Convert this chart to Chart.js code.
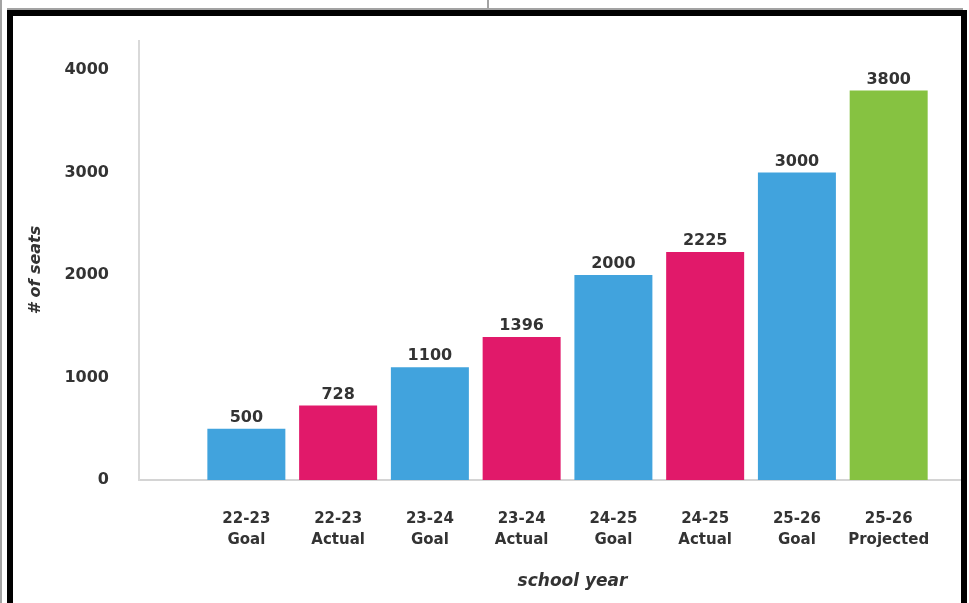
<!DOCTYPE html>
<html>
<head>
<meta charset="utf-8">
<script src="https://cdn.jsdelivr.net/npm/chart.js@4.4.1/dist/chart.umd.min.js"></script>
<style>
  html, body { margin: 0; padding: 0; background: #fff; }
  #wrap { position: relative; width: 969px; height: 603px; overflow: hidden; }
  #chart { position: absolute; left: 0; top: 0; }
  .line { position: absolute; background: #a3a3a3; }
  #frame { position: absolute; left: 7px; top: 10px; width: 960px; height: 700px; border: 6px solid #000; box-sizing: border-box; }
</style>
</head>
<body>
<div id="wrap">
  <canvas id="chart" width="969" height="603"></canvas>
  <div class="line" style="left:0;top:0;width:2px;height:603px"></div>
  <div class="line" style="left:7px;top:8px;width:956px;height:2px"></div>
  <div class="line" style="left:487px;top:0;width:2px;height:10px"></div>
  <div id="frame"></div>
</div>
<script>
const years = ['22-23', '22-23', '23-24', '23-24', '24-25', '24-25', '25-26', '25-26'];
const kinds = ['Goal', 'Actual', 'Goal', 'Actual', 'Goal', 'Actual', 'Goal', 'Projected'];
const seats = [500, 728, 1100, 1396, 2000, 2225, 3000, 3800];
const yTicks = [0, 1000, 2000, 3000, 4000];

const KIND_COLORS = { Goal: '#41a3dd', Actual: '#e1196a', Projected: '#86c241' };
const TEXT = '#333333';
const FONT = 'DejaVu Sans';

// bar value labels + axis titles centred on the data region
const overlayPlugin = {
  id: 'overlay',
  afterDatasetsDraw(chart) {
    const { ctx, scales } = chart;
    const meta = chart.getDatasetMeta(0);
    ctx.save();
    ctx.fillStyle = TEXT;
    ctx.font = `bold 16px "${FONT}"`;
    ctx.textAlign = 'center';
    ctx.textBaseline = 'middle';
    meta.data.forEach((bar, i) => {
      ctx.fillText(String(seats[i]), bar.x, bar.y - 11);
    });

    ctx.font = `italic bold 17px "${FONT}"`;
    const xMid = (scales.x.getPixelForValue(1) + scales.x.getPixelForValue(seats.length)) / 2;
    ctx.fillText('school year', xMid + 5, chart.chartArea.bottom + 102);

    ctx.font = `italic bold 16px "${FONT}"`;
    const yMid = (scales.y.getPixelForValue(yTicks[0]) + scales.y.getPixelForValue(yTicks[yTicks.length - 1])) / 2;
    ctx.translate(36, yMid - 5);
    ctx.rotate(-Math.PI / 2);
    ctx.fillText('# of seats', 0, 0);
    ctx.restore();
  }
};

new Chart(document.getElementById('chart'), {
  type: 'bar',
  data: {
    datasets: [{
      data: seats.map((v, i) => ({ x: i + 1, y: v })),
      backgroundColor: kinds.map(k => KIND_COLORS[k]),
      barPercentage: 0.85,
      categoryPercentage: 1,
      borderWidth: 0
    }]
  },
  options: {
    responsive: false,
    animation: false,
    layout: { padding: { top: 41, right: 6, bottom: 0, left: 0 } },
    plugins: { legend: { display: false }, tooltip: { enabled: false } },
    scales: {
      x: {
        type: 'linear',
        offset: false,
        min: -0.17,
        max: 8.81,
        afterBuildTicks: axis => { axis.ticks = years.map((_, i) => ({ value: i + 1 })); },
        afterFit: axis => { axis.height = 123; },
        grid: { display: false, drawTicks: false },
        border: { color: '#d4d4d4', width: 2 },
        ticks: {
          autoSkip: false,
          maxRotation: 0,
          padding: 29,
          color: TEXT,
          font: { family: FONT, size: 15, weight: 'bold', lineHeight: 1.4 },
          callback: value => [years[value - 1], kinds[value - 1]]
        }
      },
      y: {
        min: 0,
        max: 4283,
        afterBuildTicks: axis => { axis.ticks = yTicks.map(v => ({ value: v })); },
        afterFit: axis => { axis.width = 139; },
        grid: { display: false, drawTicks: false },
        border: { color: '#d9d9d9', width: 2 },
        ticks: {
          padding: 30,
          color: TEXT,
          font: { family: FONT, size: 16, weight: 'bold' },
          callback: value => String(value)
        }
      }
    }
  },
  plugins: [overlayPlugin]
});
</script>
</body>
</html>
